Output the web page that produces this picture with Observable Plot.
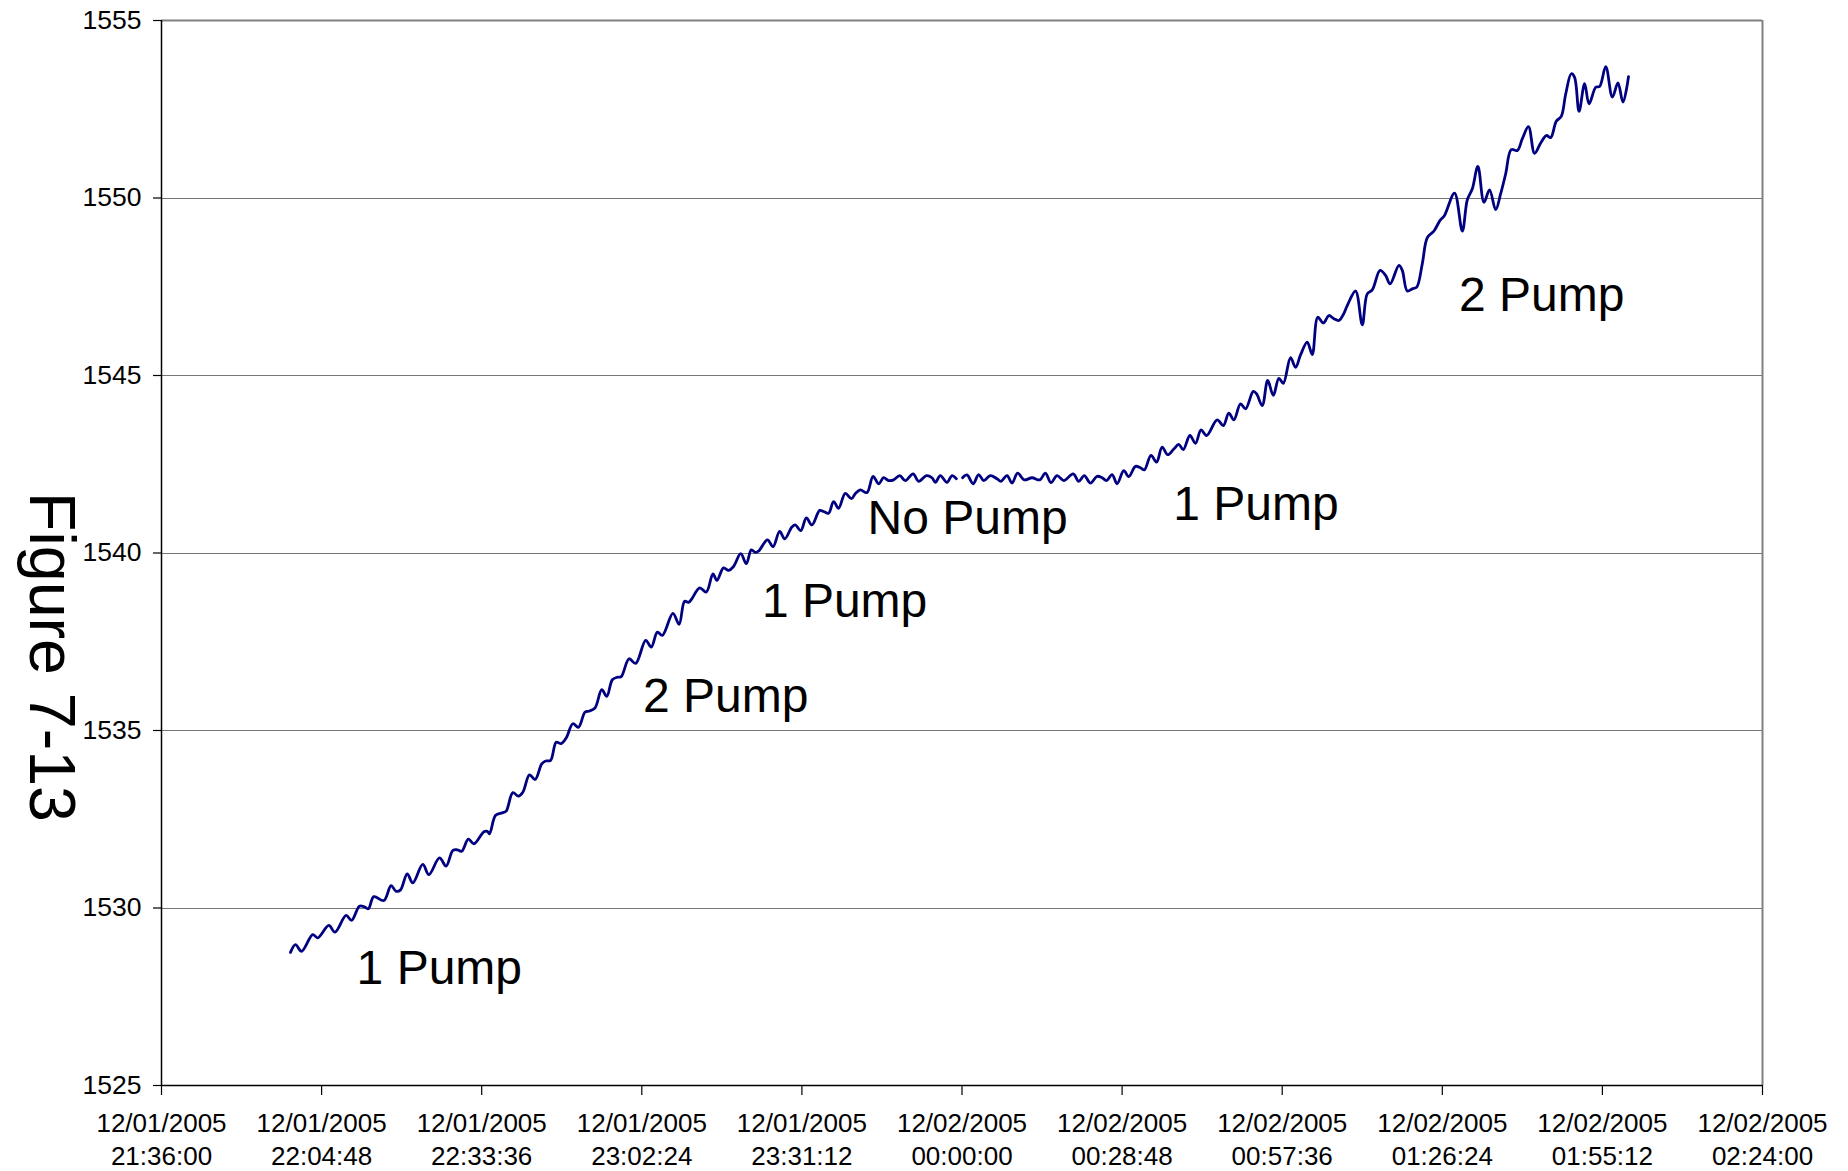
<!DOCTYPE html>
<html>
<head>
<meta charset="utf-8">
<script src="https://cdn.jsdelivr.net/npm/d3@7"></script>
<script src="https://cdn.jsdelivr.net/npm/@observablehq/plot@0.6"></script>
<style>
  html, body { margin: 0; padding: 0; background: #ffffff; }
  #chart svg { display: block; }
</style>
</head>
<body>
<div id="chart"></div>
<script>
// Minutes elapsed since 12/01/2005 21:36:00 and the recorded level (null = gap at midnight)
const minutes = [
  23.2, 24.1, 25.2, 27.2, 28.1, 30.1, 31.2, 33.2, 34.2, 35.6, 36.4, 37.2, 38.2, 40.0, 41.3, 42.2, 43.0, 44.2, 45.2, 47.0,
  48.1, 50.0, 51.2, 52.4, 53.2, 54.0, 55.2, 56.2, 58.0, 58.6, 59.0, 60.1, 61.3, 62.0, 63.2, 64.2, 65.0, 66.2, 67.2, 68.4,
  69.1, 70.0, 71.0, 71.9, 72.8, 74.0, 75.0, 76.2, 77.0, 78.0, 79.2, 80.1, 81.1, 82.0, 82.7, 84.1, 85.3, 87.1, 88.1, 89.2,
  90.1, 92.0, 93.1, 94.1, 94.8, 95.4, 96.8, 98.0, 99.2, 99.9, 101.1, 102.0, 102.9, 104.2, 105.2, 106.1, 106.8, 107.4, 109.0, 110.0,
  111.2, 112.1, 113.4, 114.0, 115.0, 116.0, 117.0, 118.4, 119.1, 120.0, 120.9, 121.8, 123.0, 124.1, 124.8, 125.7, 126.9, 128.0, 129.0, 129.9,
  130.8, 131.7, 132.8, 133.8, 135.2, 136.2, 137.6, 138.6, 139.2, 140.1, 141.3, 142.2, 143.0, 143.5, 144.1, 144.9, 146.0, 147.0, 147.9, 149.1,
  150.3, 151.0, 152.1, 153.0, 154.0, 155.2, 156.6, 158.0, 159.0, 160.0, 161.1, 162.3, 164.0, 165.0, 166.0, 167.1, 168.3, 169.2, 170.0, 171.0,
  171.9, 173.1, 174.0, 175.2, 176.1, 176.8, 178.0, 179.0, 180.0, 181.0, 182.1, 183.0, 183.8, 185.0, 186.0, 187.0, 188.0, 189.9, 191.0, 192.0,
  192.9, 194.1, 195.0, 196.4, 197.0, 198.0, 199.0, 200.0, 201.0, 201.8, 203.1, 204.0, 204.9, 206.1, 207.0, 208.0, 209.0, 210.0, 210.9, 211.8,
  212.6, 213.3, 214.8, 216.0, 216.9, 217.8, 219.2, 220.2, 221.0, 222.6, 223.2, 224.1, 225.0, 225.8, 226.8, 227.7, 228.9, 230.0, 230.8, 232.6,
  234.0, 234.9, 235.8, 236.8, 237.9, 238.9, 240.0, 240.9, 241.8, 242.8, 243.9, 244.8, 245.9, 247.0, 248.1, 249.1, 249.9, 250.9, 251.8, 252.6,
  253.6, 254.2, 255.0, 256.0, 256.8, 258.0, 258.7, 259.8, 261.0, 262.0, 262.9, 263.9
];
const levels = [
  1528.75, 1528.97, 1528.78, 1529.25, 1529.16, 1529.51, 1529.32, 1529.79, 1529.65, 1530.05, 1530.04, 1529.98, 1530.32, 1530.21, 1530.63, 1530.47, 1530.51, 1530.96, 1530.71, 1531.23,
  1530.94, 1531.41, 1531.18, 1531.62, 1531.64, 1531.60, 1531.94, 1531.81, 1532.15, 1532.16, 1532.09, 1532.61, 1532.68, 1532.73, 1533.25, 1533.15, 1533.26, 1533.75, 1533.62, 1534.06,
  1534.14, 1534.16, 1534.67, 1534.63, 1534.79, 1535.19, 1535.09, 1535.52, 1535.55, 1535.64, 1536.15, 1535.96, 1536.43, 1536.50, 1536.52, 1537.02, 1536.89, 1537.54, 1537.35, 1537.77,
  1537.68, 1538.30, 1537.99, 1538.64, 1538.61, 1538.71, 1539.02, 1538.90, 1539.41, 1539.23, 1539.58, 1539.51, 1539.62, 1539.98, 1539.70, 1540.09, 1540.02, 1540.05, 1540.37, 1540.18,
  1540.61, 1540.40, 1540.73, 1540.79, 1540.63, 1540.99, 1540.79, 1541.20, 1541.17, 1541.12, 1541.45, 1541.26, 1541.68, 1541.53, 1541.67, 1541.78, 1541.70, 1542.16, 1541.95, 1542.12,
  1542.04, 1542.06, 1542.18, 1542.04, 1542.23, 1542.02, 1542.18, 1542.12, 1541.99, 1542.18, 1541.99, 1542.18, 1542.09, null, 1542.12, 1542.20, 1541.95, 1542.21, 1542.04, 1542.18,
  1542.09, 1542.02, 1542.18, 1541.97, 1542.25, 1542.06, 1542.12, 1542.06, 1542.25, 1541.98, 1542.18, 1542.04, 1542.23, 1542.02, 1542.18, 1541.97, 1542.16, 1542.12, 1542.04, 1542.21,
  1541.95, 1542.32, 1542.15, 1542.44, 1542.40, 1542.34, 1542.75, 1542.56, 1542.98, 1542.77, 1542.93, 1543.06, 1542.91, 1543.31, 1543.09, 1543.47, 1543.31, 1543.75, 1543.59, 1543.94,
  1543.75, 1544.20, 1544.06, 1544.55, 1544.48, 1544.15, 1544.86, 1544.44, 1544.92, 1544.78, 1545.50, 1545.23, 1545.58, 1545.94, 1545.59, 1546.64, 1546.48, 1546.69, 1546.60, 1546.55,
  1546.72, 1546.97, 1547.38, 1546.43, 1547.30, 1547.41, 1547.96, 1547.82, 1547.58, 1548.10, 1547.96, 1547.38, 1547.44, 1547.49, 1548.15, 1548.88, 1549.07, 1549.37, 1549.51, 1550.14,
  1549.07, 1549.95, 1550.26, 1550.89, 1549.88, 1550.23, 1549.67, 1550.12, 1550.68, 1551.36, 1551.34, 1551.67, 1552.01, 1551.26, 1551.55, 1551.76, 1551.70, 1552.16, 1552.30, 1552.93,
  1553.50, 1553.40, 1552.44, 1553.22, 1552.65, 1553.12, 1553.14, 1553.70, 1552.84, 1553.24, 1552.70, 1553.42
];

// Axis ticks
const yTicks = [1525, 1530, 1535, 1540, 1545, 1550, 1555];
const xTickMinutes = [0, 28.8, 57.6, 86.4, 115.2, 144, 172.8, 201.6, 230.4, 259.2, 288];

// Annotations (label, minutes since start, level at text baseline)
const annotLabels = ["1 Pump", "2 Pump", "1 Pump", "No Pump", "1 Pump", "2 Pump"];
const annotMinutes = [35.1, 86.6, 108.0, 127.0, 182.0, 233.4];
const annotLevels = [1527.87, 1535.52, 1538.19, 1540.54, 1540.94, 1546.81];

const figureTitle = "Figure 7-13";

const t0 = Date.UTC(2005, 11, 1, 21, 36, 0);
const toDate = m => new Date(t0 + Math.round(m * 60000));

const data = minutes.map((m, i) => ({time: toDate(m), level: levels[i]}));
const annots = annotLabels.map((t, i) => ({label: t, time: toDate(annotMinutes[i]), level: annotLevels[i]}));
const xTicks = xTickMinutes.map(toDate);
const xStart = xTicks[0], xEnd = xTicks[xTicks.length - 1];
const fmt = d3.utcFormat("%m/%d/%Y\n%H:%M:%S");

const chart = Plot.plot({
  width: 1848,
  height: 1171,
  marginLeft: 161,
  marginRight: 86,
  marginTop: 20,
  marginBottom: 86,
  style: {fontFamily: "'Liberation Sans', Arial, sans-serif", background: "#ffffff", color: "#000000", overflow: "visible"},
  x: {type: "utc", domain: [xStart, xEnd]},
  y: {domain: [1525, 1555]},
  marks: [
    Plot.ruleY(yTicks.slice(1, -1), {stroke: "#777777", strokeWidth: 1, shapeRendering: "crispEdges"}),
    Plot.ruleY([yTicks[yTicks.length - 1]], {stroke: "#808080", strokeWidth: 2}),
    Plot.ruleX([xEnd], {stroke: "#808080", strokeWidth: 2}),
    Plot.line(data, {x: "time", y: "level", stroke: "#000080", strokeWidth: 2.8, curve: "catmull-rom"}),
    Plot.axisY({ticks: yTicks, tickSize: 8, tickPadding: 12, fontSize: 26.5, tickFormat: d => String(d), label: null, strokeWidth: 1.2}),
    Plot.axisX({ticks: xTicks, tickSize: 10, tickPadding: 13, fontSize: 26, lineHeight: 1.28, tickFormat: fmt, label: null, strokeWidth: 1.2}),
    Plot.ruleX([xStart], {stroke: "#000000", strokeWidth: 1.5}),
    Plot.ruleY([yTicks[0]], {stroke: "#000000", strokeWidth: 1.5}),
    Plot.text(annots, {x: "time", y: "level", text: "label", fontSize: 48, textAnchor: "start", lineAnchor: "bottom", fill: "#000000"}),
    Plot.text([figureTitle], {text: d => d, frameAnchor: "left", textAnchor: "middle", lineAnchor: "middle", dx: -111, dy: 104, rotate: 90, fontSize: 64.5, fill: "#000000"})
  ]
});
document.getElementById("chart").appendChild(chart);
</script>
</body>
</html>
